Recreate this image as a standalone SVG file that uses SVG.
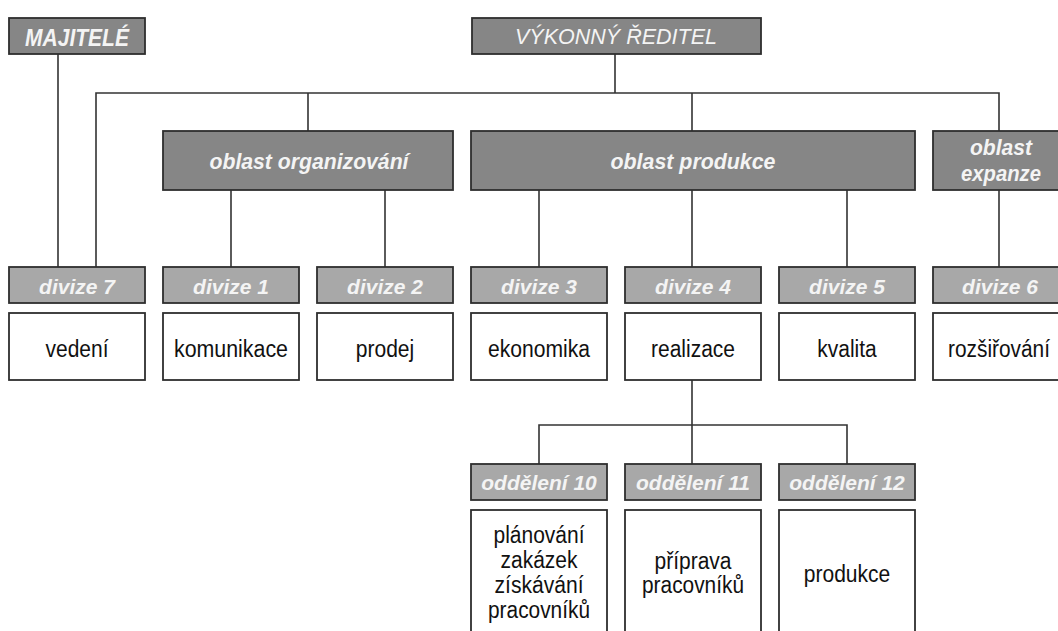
<svg xmlns="http://www.w3.org/2000/svg" width="1058" height="631" viewBox="0 0 1058 631">
<style>
.dark{fill:#868686;stroke:#2e2e2e;stroke-width:1.8}
.mid{fill:#a8a8a8;stroke:#2e2e2e;stroke-width:1.8}
.white{fill:#ffffff;stroke:#2e2e2e;stroke-width:1.8}
.ht{font-family:"Liberation Sans",Arial,sans-serif;font-size:21px;font-weight:bold;font-style:italic;fill:#f4f4f4;text-anchor:middle}
.big{font-size:22px}
.ct{font-family:"Liberation Sans",Arial,sans-serif;font-size:23px;fill:#111;text-anchor:middle}
.conn{fill:none;stroke:#333;stroke-width:1.6}
</style>
<rect width="1058" height="631" fill="#ffffff"/>
<g id="connectors" class="conn">
<path d="M58 54V267"/>
<path d="M615 54V93"/>
<path d="M96 267V93H999V131"/>
<path d="M308 93V131"/>
<path d="M692 93V131"/>
<path d="M231 190V267"/>
<path d="M385 190V267"/>
<path d="M539 190V267"/>
<path d="M692 190V267"/>
<path d="M847 190V267"/>
<path d="M999 190V267"/>
<path d="M692 380V464"/>
<path d="M539 464V425H847V464"/>
</g>
<g id="majitele"><rect class="dark" x="9" y="18" width="136" height="36"/><text class="ht" x="77" y="45.5" style="font-size:23px" textLength="104" lengthAdjust="spacingAndGlyphs">MAJITELÉ</text></g>
<g id="reditel"><rect class="dark" x="472" y="18" width="289" height="36"/><text class="ht" x="616" y="43.5" style="font-weight:normal;font-size:21.5px" textLength="202" lengthAdjust="spacingAndGlyphs">VÝKONNÝ ŘEDITEL</text></g>
<g id="oblast-org"><rect class="dark" x="163" y="131" width="290" height="59"/><text class="ht big" x="309" y="169" textLength="199" lengthAdjust="spacingAndGlyphs">oblast organizování</text></g>
<g id="oblast-prod"><rect class="dark" x="471" y="131" width="444" height="59"/><text class="ht big" x="693" y="169" textLength="165" lengthAdjust="spacingAndGlyphs">oblast produkce</text></g>
<g id="oblast-exp"><rect class="dark" x="933" y="131" width="140" height="59"/><text class="ht big" x="1001" y="155" textLength="62" lengthAdjust="spacingAndGlyphs">oblast</text><text class="ht big" x="1001" y="181" textLength="80" lengthAdjust="spacingAndGlyphs">expanze</text></g>
<g id="divize7"><rect class="mid" x="9" y="267" width="136" height="36"/><text class="ht" x="77" y="294">divize 7</text><rect class="white" x="9" y="313" width="136" height="67"/><text class="ct" x="77" y="357" textLength="63" lengthAdjust="spacingAndGlyphs">vedení</text></g>
<g id="divize1"><rect class="mid" x="163" y="267" width="136" height="36"/><text class="ht" x="231" y="294">divize 1</text><rect class="white" x="163" y="313" width="136" height="67"/><text class="ct" x="231" y="357" textLength="114" lengthAdjust="spacingAndGlyphs">komunikace</text></g>
<g id="divize2"><rect class="mid" x="317" y="267" width="136" height="36"/><text class="ht" x="385" y="294">divize 2</text><rect class="white" x="317" y="313" width="136" height="67"/><text class="ct" x="385" y="357" textLength="58.5" lengthAdjust="spacingAndGlyphs">prodej</text></g>
<g id="divize3"><rect class="mid" x="471" y="267" width="136" height="36"/><text class="ht" x="539" y="294">divize 3</text><rect class="white" x="471" y="313" width="136" height="67"/><text class="ct" x="539" y="357" textLength="102" lengthAdjust="spacingAndGlyphs">ekonomika</text></g>
<g id="divize4"><rect class="mid" x="625" y="267" width="136" height="36"/><text class="ht" x="693" y="294">divize 4</text><rect class="white" x="625" y="313" width="136" height="67"/><text class="ct" x="693" y="357" textLength="84" lengthAdjust="spacingAndGlyphs">realizace</text></g>
<g id="divize5"><rect class="mid" x="779" y="267" width="136" height="36"/><text class="ht" x="847" y="294">divize 5</text><rect class="white" x="779" y="313" width="136" height="67"/><text class="ct" x="847" y="357" textLength="59.5" lengthAdjust="spacingAndGlyphs">kvalita</text></g>
<g id="divize6"><rect class="mid" x="933" y="267" width="140" height="36"/><text class="ht" x="1000" y="294">divize 6</text><rect class="white" x="933" y="313" width="140" height="67"/><text class="ct" x="999" y="357" textLength="102" lengthAdjust="spacingAndGlyphs">rozšiřování</text></g>
<g id="oddeleni10"><rect class="mid" x="471" y="464" width="136" height="36"/><text class="ht" x="539" y="490">oddělení 10</text><rect class="white" x="471" y="510" width="136" height="140"/><text class="ct" x="539" y="543" textLength="91" lengthAdjust="spacingAndGlyphs">plánování</text><text class="ct" x="539" y="568" textLength="77" lengthAdjust="spacingAndGlyphs">zakázek</text><text class="ct" x="539" y="593" textLength="89" lengthAdjust="spacingAndGlyphs">získávání</text><text class="ct" x="539" y="618" textLength="102" lengthAdjust="spacingAndGlyphs">pracovníků</text></g>
<g id="oddeleni11"><rect class="mid" x="625" y="464" width="136" height="36"/><text class="ht" x="693" y="490">oddělení 11</text><rect class="white" x="625" y="510" width="136" height="140"/><text class="ct" x="693" y="569" textLength="77" lengthAdjust="spacingAndGlyphs">příprava</text><text class="ct" x="693" y="593" textLength="102" lengthAdjust="spacingAndGlyphs">pracovníků</text></g>
<g id="oddeleni12"><rect class="mid" x="779" y="464" width="136" height="36"/><text class="ht" x="847" y="490">oddělení 12</text><rect class="white" x="779" y="510" width="136" height="140"/><text class="ct" x="847" y="582" textLength="86.5" lengthAdjust="spacingAndGlyphs">produkce</text></g>
</svg>
